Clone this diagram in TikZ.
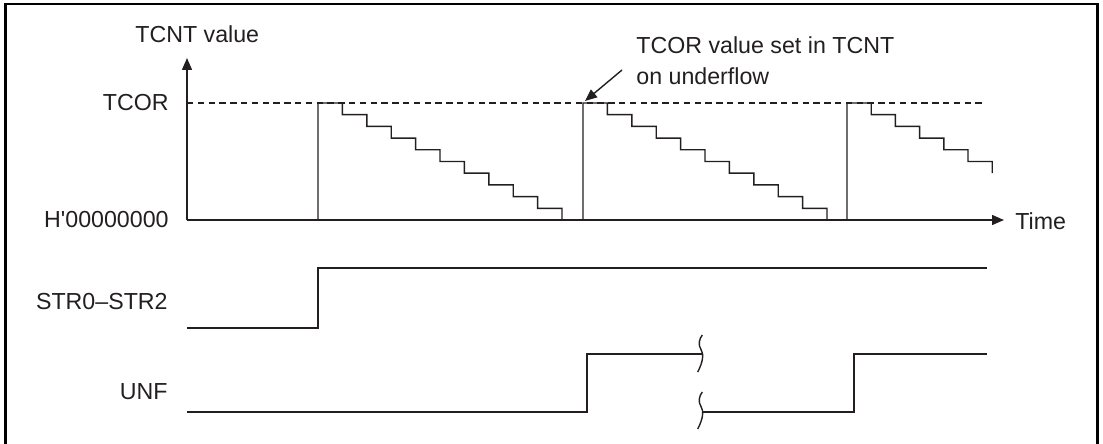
\documentclass[tikz,border=0pt]{standalone}
\usepackage{fontspec}
\setmainfont{Liberation Sans}
\usetikzlibrary{arrows.meta, positioning}
\definecolor{ink}{RGB}{35, 31, 32}
\tikzset{
    lbl/.style={font=\fontsize{11.6}{14}\selectfont, text=ink, inner sep=0pt},
    wave/.style={draw=ink, line width=0.7pt},
    axis/.style={wave, -{Triangle[length=6pt, width=5pt]}},
    level/.style={draw=ink, line width=0.6pt, dash pattern=on 3.2pt off 2.2pt},
    pointer/.style={draw=ink, line width=0.7pt, -{Triangle[length=6pt, width=5pt]}},
    frame/.style={draw=black, line width=1.3pt}
}

\begin{document}
\begin{tikzpicture}[x=0.5pt, y=-0.5pt]
    \useasboundingbox (0,0) rectangle (1103,444);

    % Frame, open at the bottom
    \draw[frame] (5.5,444) -- (5.5,4) -- (1097.5,4) -- (1097.5,444);

    % Axes
    \coordinate (origin) at (187,220);
    \coordinate (ytip) at (187,58);
    \coordinate (xtip) at (1004,220);
    \draw[axis] (origin) -- (ytip);
    \draw[axis] (origin) -- (xtip);

    \node[lbl, anchor=base west] (tcntlbl) at (135,43) {TCNT value};
    \node[lbl, anchor=east] (tcorlbl) at (169,103) {TCOR};
    \node[lbl, anchor=east] (zerolbl) at (169,220) {H\textquotesingle 00000000};
    \node[lbl, anchor=west] (timelbl) at (1015,221) {Time};

    % TCOR level
    \coordinate (tcor) at (187,103);
    \coordinate (tcorend) at (983,103);
    \draw[level] (tcor) -- (tcorend);

    % TCNT count down
    \draw[wave] (318,220) -- (318,103)
        \foreach \k in {1,...,10} { -- ++(24.4,0) -- ++(0,11.7) }
        -- (583,220) -- (583,103)
        \foreach \k in {1,...,10} { -- ++(24.4,0) -- ++(0,11.7) }
        -- (847,220) -- (847,103)
        \foreach \k in {1,...,6} { -- ++(24.2,0) -- ++(0,11.7) };

    % Note on reload
    \node[lbl, anchor=base west] (note1) at (636,54) {TCOR value set in TCNT};
    \node[lbl, anchor=base west] (note2) at (636,85) {on underflow};
    \coordinate (notetail) at (622,70);
    \coordinate (reload) at (585,101);
    \draw[pointer] (notetail) -- (reload);

    % STR0-STR2
    \node[lbl, anchor=east] (strlbl) at (168,302) {STR0–STR2};
    \draw[wave] (187,328) -- (318,328) -- (318,268) -- (987,268);

    % UNF
    \node[lbl, anchor=east] (unflbl) at (168,392) {UNF};
    \draw[wave] (187,412) -- (587,412) -- (587,354) -- (702.5,354);
    \draw[wave] (702.5,412) -- (854,412) -- (854,354) -- (987,354);
    \foreach \dy in {0,57}
        \draw[wave, shift={(0,\dy)}] (702.3,335) .. controls (699,339) and (698,345) .. (701,349.5)
            .. controls (704,354) and (703,362) .. (697.7,372);

\end{tikzpicture}
\end{document}
